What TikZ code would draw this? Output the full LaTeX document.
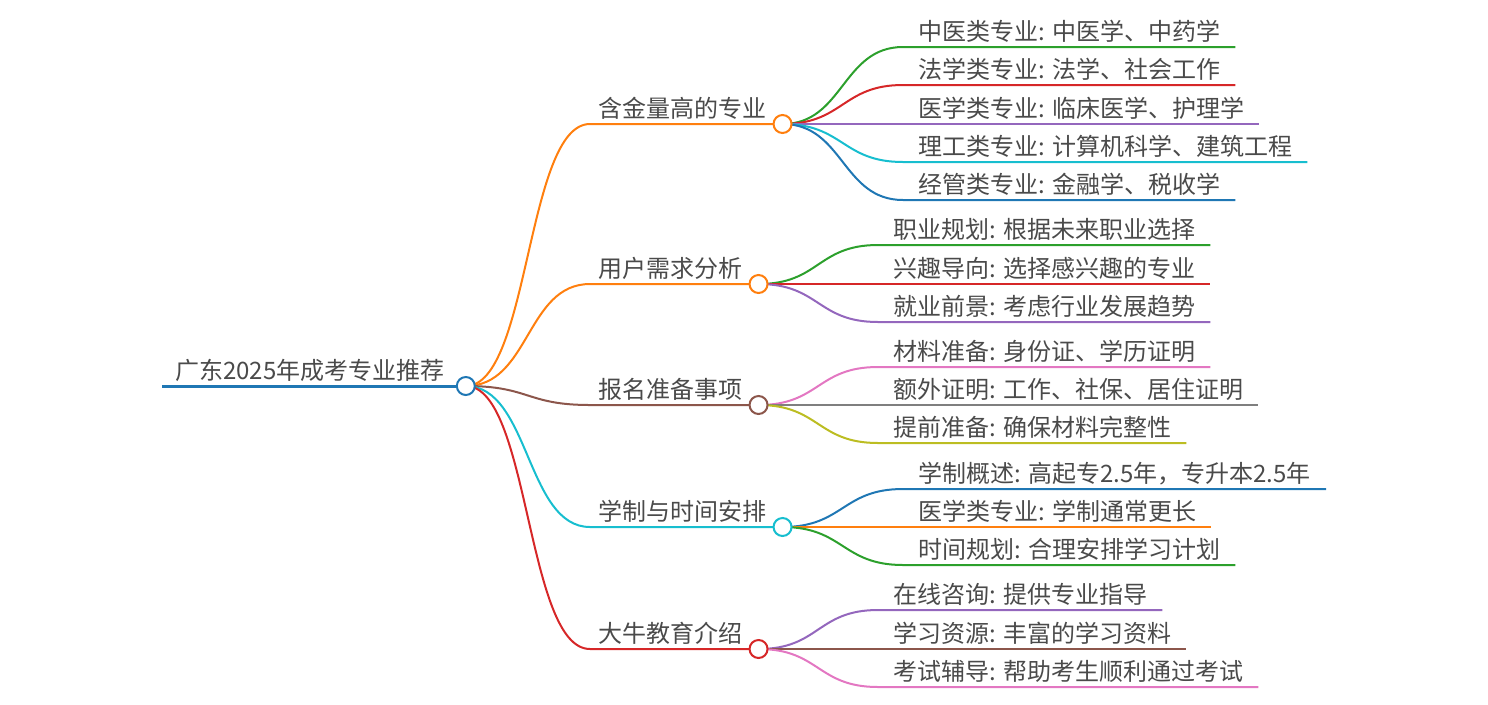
\documentclass[tikz,border=0pt]{standalone}
\usepackage{fontspec}
\setmainfont{Noto Sans CJK SC}
\usetikzlibrary{positioning}
\pgfdeclarelayer{wires}
\pgfsetlayers{wires,main}

\definecolor{ink}{HTML}{4A4A4A}
\definecolor{cblue}{HTML}{1F77B4}
\definecolor{corange}{HTML}{FF7F0E}
\definecolor{cgreen}{HTML}{2CA02C}
\definecolor{cred}{HTML}{D62728}
\definecolor{cpurple}{HTML}{9467BD}
\definecolor{cbrown}{HTML}{8C564B}
\definecolor{cpink}{HTML}{E377C2}
\definecolor{cgray}{HTML}{7F7F7F}
\definecolor{colive}{HTML}{BCBD22}
\definecolor{ccyan}{HTML}{17BECF}

\tikzset{
  every node/.style={font=\fontsize{18}{21}\selectfont, text=ink},
  rootlabel/.style={anchor=south west, inner xsep=9.75pt, inner ysep=0pt, text depth=4.5pt},
  mainlabel/.style={anchor=south west, inner xsep=6pt, inner ysep=0pt, text depth=4.5pt},
  leaflabel/.style={anchor=south west, inner xsep=11.25pt, inner ysep=0pt, text depth=4.5pt},
  knob/.style={circle, draw, fill=white, line width=1.5pt, minimum size=13.5pt, inner sep=0pt},
  wire/.style={line width=1.5pt},
  rootwire/.style={line width=2.25pt}
}

\begin{document}
\begin{tikzpicture}[x=0.75pt,y=0.75pt,yscale=-1,xscale=1]
\useasboundingbox (0,0) rectangle (1488,704);

% root
\node[rootlabel] (root) at (162,386) {广东2025年成考专业推荐};
\node[knob, draw=cblue] (rootknob) at ([xshift=6pt]root.south east) {};

% main topics
\node[mainlabel] (major) at (590,124) {含金量高的专业};
\node[knob, draw=corange] (majorknob) at ([xshift=6pt]major.south east) {};
\node[mainlabel] (demand) at (590,284) {用户需求分析};
\node[knob, draw=corange] (demandknob) at ([xshift=6pt]demand.south east) {};
\node[mainlabel] (enroll) at (590,405) {报名准备事项};
\node[knob, draw=cbrown] (enrollknob) at ([xshift=6pt]enroll.south east) {};
\node[mainlabel] (schedule) at (590,527) {学制与时间安排};
\node[knob, draw=ccyan] (scheduleknob) at ([xshift=6pt]schedule.south east) {};
\node[mainlabel] (daniu) at (590,649) {大牛教育介绍};
\node[knob, draw=cred] (daniuknob) at ([xshift=6pt]daniu.south east) {};

% leaves
\node[leaflabel] (tcm) at (903,47) {中医类专业: 中医学、中药学};
\node[leaflabel] (law) at (903,85) {法学类专业: 法学、社会工作};
\node[leaflabel] (med) at (903,124) {医学类专业: 临床医学、护理学};
\node[leaflabel] (eng) at (903,162) {理工类专业: 计算机科学、建筑工程};
\node[leaflabel] (econ) at (903,200) {经管类专业: 金融学、税收学};

\node[leaflabel] (career) at (878,245) {职业规划: 根据未来职业选择};
\node[leaflabel] (interest) at (878,284) {兴趣导向: 选择感兴趣的专业};
\node[leaflabel] (prospect) at (878,322) {就业前景: 考虑行业发展趋势};

\node[leaflabel] (material) at (878,367) {材料准备: 身份证、学历证明};
\node[leaflabel] (extra) at (878,405) {额外证明: 工作、社保、居住证明};
\node[leaflabel] (early) at (878,443) {提前准备: 确保材料完整性};

\node[leaflabel] (overview) at (903,489) {学制概述: 高起专2.5年，专升本2.5年};
\node[leaflabel] (medlen) at (903,527) {医学类专业: 学制通常更长};
\node[leaflabel] (plan) at (903,565) {时间规划: 合理安排学习计划};

\node[leaflabel] (online) at (878,610) {在线咨询: 提供专业指导};
\node[leaflabel] (resource) at (878,649) {学习资源: 丰富的学习资料};
\node[leaflabel] (tutor) at (878,687) {考试辅导: 帮助考生顺利通过考试};

\begin{pgfonlayer}{wires}
\draw[rootwire, cblue] (root.south west) -- (rootknob.center);

\draw[wire, corange] (rootknob.center) .. controls +(64,0) and +(-64,0) .. (major.south west) -- (majorknob.center);
\draw[wire, corange] (rootknob.center) .. controls +(64,0) and +(-64,0) .. (demand.south west) -- (demandknob.center);
\draw[wire, cbrown] (rootknob.center) .. controls +(64,0) and +(-64,0) .. (enroll.south west) -- (enrollknob.center);
\draw[wire, ccyan] (rootknob.center) .. controls +(64,0) and +(-64,0) .. (schedule.south west) -- (scheduleknob.center);
\draw[wire, cred] (rootknob.center) .. controls +(64,0) and +(-64,0) .. (daniu.south west) -- (daniuknob.center);

\draw[wire, cgreen] (majorknob.center) .. controls +(61,0) and +(-61,0) .. (tcm.south west) -- (tcm.south east);
\draw[wire, cred] (majorknob.center) .. controls +(61,0) and +(-61,0) .. (law.south west) -- (law.south east);
\draw[wire, cpurple] (majorknob.center) .. controls +(61,0) and +(-61,0) .. (med.south west) -- (med.south east);
\draw[wire, ccyan] (majorknob.center) .. controls +(61,0) and +(-61,0) .. (eng.south west) -- (eng.south east);
\draw[wire, cblue] (majorknob.center) .. controls +(61,0) and +(-61,0) .. (econ.south west) -- (econ.south east);

\draw[wire, cgreen] (demandknob.center) .. controls +(61,0) and +(-61,0) .. (career.south west) -- (career.south east);
\draw[wire, cred] (demandknob.center) .. controls +(61,0) and +(-61,0) .. (interest.south west) -- (interest.south east);
\draw[wire, cpurple] (demandknob.center) .. controls +(61,0) and +(-61,0) .. (prospect.south west) -- (prospect.south east);

\draw[wire, cpink] (enrollknob.center) .. controls +(61,0) and +(-61,0) .. (material.south west) -- (material.south east);
\draw[wire, cgray] (enrollknob.center) .. controls +(61,0) and +(-61,0) .. (extra.south west) -- (extra.south east);
\draw[wire, colive] (enrollknob.center) .. controls +(61,0) and +(-61,0) .. (early.south west) -- (early.south east);

\draw[wire, cblue] (scheduleknob.center) .. controls +(61,0) and +(-61,0) .. (overview.south west) -- (overview.south east);
\draw[wire, corange] (scheduleknob.center) .. controls +(61,0) and +(-61,0) .. (medlen.south west) -- (medlen.south east);
\draw[wire, cgreen] (scheduleknob.center) .. controls +(61,0) and +(-61,0) .. (plan.south west) -- (plan.south east);

\draw[wire, cpurple] (daniuknob.center) .. controls +(61,0) and +(-61,0) .. (online.south west) -- (online.south east);
\draw[wire, cbrown] (daniuknob.center) .. controls +(61,0) and +(-61,0) .. (resource.south west) -- (resource.south east);
\draw[wire, cpink] (daniuknob.center) .. controls +(61,0) and +(-61,0) .. (tutor.south west) -- (tutor.south east);
\end{pgfonlayer}

\end{tikzpicture}
\end{document}
